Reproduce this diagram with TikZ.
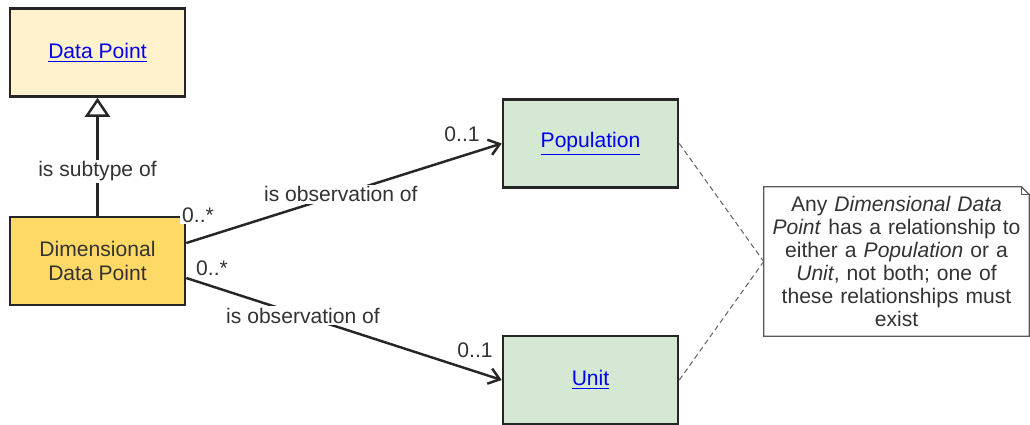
\documentclass[tikz,border=0pt]{standalone}
\usepackage{fontspec}
\setmainfont{Liberation Sans}
\usetikzlibrary{arrows.meta}

\definecolor{boxline}{HTML}{262626}
\definecolor{txtgray}{HTML}{333333}
\definecolor{linkblue}{HTML}{0000EE}
\definecolor{paleyellow}{HTML}{FFF2CC}
\definecolor{gold}{HTML}{FFD966}
\definecolor{palegreen}{HTML}{D5E8D4}

\newcommand{\umllink}[1]{\textcolor{linkblue}{\underline{#1}}}

\tikzset{
	umlbox/.style={draw=boxline, line width=1.5pt, minimum width=3.5cm, minimum height=1.76cm, align=center, text=txtgray, font=\fontsize{12}{14}\selectfont},
	lbl/.style={fill=white, text=txtgray, inner sep=1pt, font=\fontsize{12}{14}\selectfont},
	assoc/.style={draw=boxline, line width=1.4pt, -{Straight Barb[length=6pt,width=9pt]}},
	subtype/.style={draw=boxline, line width=1.4pt, -{Triangle[open, fill=white, length=0.38cm, width=0.5cm]}},
	notelink/.style={draw=gray!80!black, dash pattern=on 3pt off 2pt, line width=0.6pt},
}

\begin{document}
\begin{tikzpicture}[x=0.02cm, y=-0.02cm]
	\useasboundingbox (0,0) rectangle (1030,424);

	% Clases
	\node[umlbox, fill=paleyellow] (dp) at (97.5,52.5) {\umllink{Data Point}};
	\node[umlbox, fill=gold] (ddp) at (97.5,261) {Dimensional\\Data Point};
	\node[umlbox, fill=palegreen] (pop) at (590.5,143.5) {\umllink{Population}};
	\node[umlbox, fill=palegreen] (unit) at (590.5,380) {\umllink{Unit}};

	% Nota
	\node[text width=5cm, align=center, minimum width=5.3cm, minimum height=2.98cm, text=txtgray, font=\fontsize{12}{13}\selectfont] (note) at (896.5,261.5)
		{Any \textit{Dimensional Data}\\ \textit{Point} has a relationship to\\ either a \textit{Population} or a\\ \textit{Unit}, not both; one of\\ these relationships must\\ exist};
	\draw[draw=gray!70!black, line width=0.7pt] (note.north west) -- ([xshift=-0.16cm]note.north east) -- ([yshift=-0.16cm]note.north east) -- (note.south east) -- (note.south west) -- cycle;
	\draw[draw=gray!70!black, line width=0.7pt] ([xshift=-0.16cm]note.north east) -- ([xshift=-0.16cm, yshift=-0.16cm]note.north east) -- ([yshift=-0.16cm]note.north east);

	% Relaciones
	\draw[subtype] (ddp.north) -- (dp.south) node[lbl, pos=0.375] {is subtype of};
	\draw[assoc] ([yshift=0.36cm]ddp.east) -- (pop.west) node[lbl, pos=0.49] {is observation of};
	\draw[assoc] ([yshift=-0.34cm]ddp.east) -- (unit.west) node[lbl, pos=0.37] {is observation of};

	% Multiplicidades
	\node[lbl] (m1) at (198,215) {0..*};
	\node[lbl] (m2) at (462,134) {0..1};
	\node[lbl] (m3) at (212,268) {0..*};
	\node[lbl] (m4) at (475,350) {0..1};

	% Lineas de la nota
	\draw[notelink] (pop.east) -- (note.west);
	\draw[notelink] (unit.east) -- (note.west);
\end{tikzpicture}
\end{document}
